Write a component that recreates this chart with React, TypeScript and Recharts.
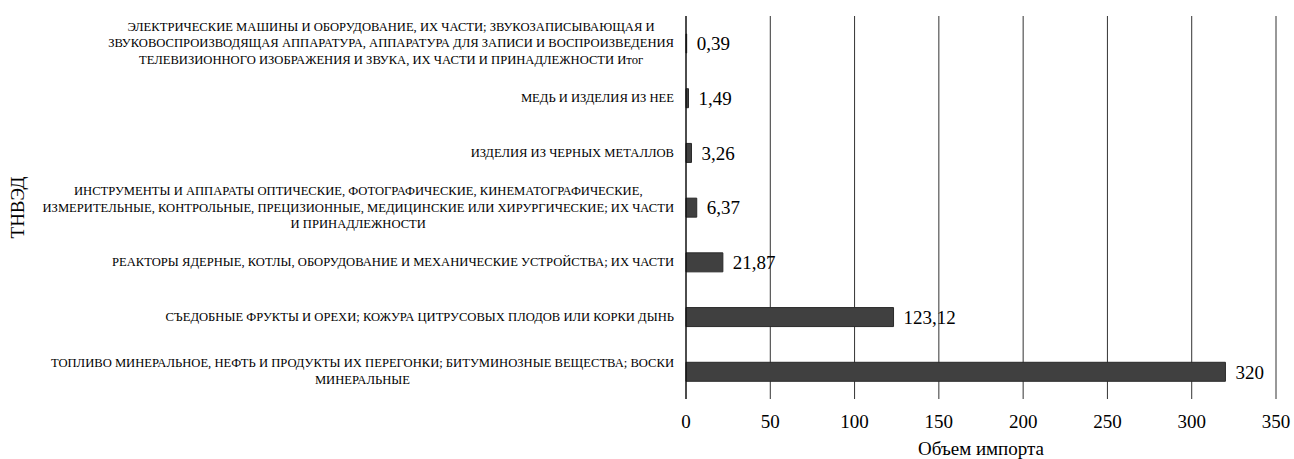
import { BarChart, Bar, XAxis, YAxis, CartesianGrid, LabelList, Label } from 'recharts';

const categories = [
  'ЭЛЕКТРИЧЕСКИЕ МАШИНЫ И ОБОРУДОВАНИЕ, ИХ ЧАСТИ; ЗВУКОЗАПИСЫВАЮЩАЯ И\nЗВУКОВОСПРОИЗВОДЯЩАЯ АППАРАТУРА, АППАРАТУРА ДЛЯ ЗАПИСИ И ВОСПРОИЗВЕДЕНИЯ\nТЕЛЕВИЗИОННОГО ИЗОБРАЖЕНИЯ И ЗВУКА, ИХ ЧАСТИ И ПРИНАДЛЕЖНОСТИ Итог',
  'МЕДЬ И ИЗДЕЛИЯ ИЗ НЕЕ',
  'ИЗДЕЛИЯ ИЗ ЧЕРНЫХ МЕТАЛЛОВ',
  'ИНСТРУМЕНТЫ И АППАРАТЫ ОПТИЧЕСКИЕ, ФОТОГРАФИЧЕСКИЕ, КИНЕМАТОГРАФИЧЕСКИЕ,\nИЗМЕРИТЕЛЬНЫЕ, КОНТРОЛЬНЫЕ, ПРЕЦИЗИОННЫЕ, МЕДИЦИНСКИЕ ИЛИ ХИРУРГИЧЕСКИЕ; ИХ ЧАСТИ\nИ ПРИНАДЛЕЖНОСТИ',
  'РЕАКТОРЫ ЯДЕРНЫЕ, КОТЛЫ, ОБОРУДОВАНИЕ И МЕХАНИЧЕСКИЕ УСТРОЙСТВА; ИХ ЧАСТИ',
  'СЪЕДОБНЫЕ ФРУКТЫ И ОРЕХИ; КОЖУРА ЦИТРУСОВЫХ ПЛОДОВ ИЛИ КОРКИ ДЫНЬ',
  'ТОПЛИВО МИНЕРАЛЬНОЕ, НЕФТЬ И ПРОДУКТЫ ИХ ПЕРЕГОНКИ; БИТУМИНОЗНЫЕ ВЕЩЕСТВА; ВОСКИ\nМИНЕРАЛЬНЫЕ',
];
const importValues = [0.39, 1.49, 3.26, 6.37, 21.87, 123.12, 320];
const xTicks = [0, 50, 100, 150, 200, 250, 300, 350];

const data = categories.map((name, i) => ({ name, value: importValues[i] }));

const FONT = "'Liberation Serif', 'Times New Roman', serif";
const LABEL_SIZE = 12.6;
const LINE_H = 16.5;

let ctx: CanvasRenderingContext2D | null = null;
function textWidth(s: string) {
  if (!ctx) ctx = document.createElement('canvas').getContext('2d');
  if (!ctx) return s.length * 8;
  ctx.font = `${LABEL_SIZE}px ${FONT}`;
  return ctx.measureText(s).width;
}

// multi-line category label, lines centred, block right-aligned to the axis
function CategoryTick(props: any) {
  const { x, y, payload } = props;
  const lines: string[] = String(payload.value).split('\n');
  const maxW = Math.max(...lines.map(textWidth));
  const right = x - 4;
  const cx = right - maxW / 2;
  const y0 = y - ((lines.length - 1) * LINE_H) / 2;
  return (
    <text
      x={cx}
      y={y0}
      textAnchor='middle'
      dominantBaseline='central'
      fill='#000'
      style={{ fontFamily: FONT, fontSize: LABEL_SIZE }}
    >
      {lines.map((l, i) => (
        <tspan key={i} x={cx} y={y0 + i * LINE_H}>
          {l}
        </tspan>
      ))}
    </text>
  );
}

const fmt = (v: any) => String(v).replace('.', ',');

export default function App() {
  return (
    <div style={{ position: 'absolute', left: 0, top: 0, background: '#fff', fontFamily: FONT }}>
      <BarChart
        width={1294}
        height={459}
        data={data}
        layout='vertical'
        margin={{ top: 16, right: 18, bottom: 0, left: 0 }}
      >
        <CartesianGrid horizontal={false} vertical stroke='#333' strokeWidth={1} />
        <XAxis
          type='number'
          domain={[0, 350]}
          ticks={xTicks}
          axisLine={false}
          tickLine={false}
          tickMargin={10}
          height={60}
          tick={{ fontFamily: FONT, fontSize: 19, fill: '#000' }}
        >
          <Label value='Объем импорта' position='insideBottom' offset={4} style={{ fontFamily: FONT, fontSize: 19, fill: '#000' }} />
        </XAxis>
        <YAxis
          type='category'
          dataKey='name'
          width={686}
          axisLine={{ stroke: '#000', strokeWidth: 1 }}
          tickLine={false}
          interval={0}
          tick={<CategoryTick />}
        >
          <Label value='ТНВЭД' angle={-90} position='insideLeft' offset={17} style={{ fontFamily: FONT, fontSize: 19, fill: '#000', textAnchor: 'middle' }} />
        </YAxis>
        <Bar dataKey='value' fill='#404040' stroke='#2a2a2a' strokeWidth={1} barSize={19} isAnimationActive={false}>
          <LabelList dataKey='value' position='right' offset={10} formatter={fmt} style={{ fontFamily: FONT, fontSize: 19, fill: '#000' }} />
        </Bar>
      </BarChart>
    </div>
  );
}
